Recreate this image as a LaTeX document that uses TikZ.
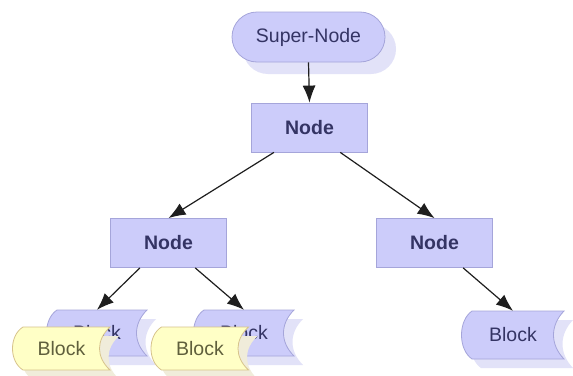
\documentclass[tikz,border=0pt]{standalone}
\usepackage{fontspec}
\setmainfont{Liberation Sans}
\usetikzlibrary{arrows.meta,shadows,calc}
\definecolor{nfill}{RGB}{204,204,250}
\definecolor{ndraw}{RGB}{165,165,218}
\definecolor{nshadow}{RGB}{226,226,248}
\definecolor{ntext}{RGB}{52,52,100}
\definecolor{yfillc}{RGB}{255,255,198}
\definecolor{ydrawc}{RGB}{215,195,140}
\definecolor{yshadowc}{RGB}{240,236,218}
\definecolor{ytextc}{RGB}{95,95,60}
\definecolor{arrowc}{RGB}{30,30,30}
\newcommand\blkshape[2]{(-#1+10,-#2) -- (#1,-#2) .. controls (#1-14,-#2*0.4) and (#1-14,#2*0.4) .. (#1,#2) -- (-#1+10,#2) .. controls (-#1-4,#2*0.6) and (-#1-4,-#2*0.6) .. (-#1+10,-#2) -- cycle}
% #1 name, #2 cx, #3 cy, #4 half width, #5 half height, #6 p or y
\newcommand\blk[6]{%
  \begin{scope}[shift={(#2,#3)}]
    \fill[#6shadow] [shift={(9,9)}] \blkshape{#4}{#5};
    \filldraw[#6block] \blkshape{#4}{#5};
  \end{scope}
  \node[#6text, minimum width=2*#4pt, minimum height=2*#5pt, inner sep=0pt] (#1) at (#2,#3) {Block};
}
\tikzset{
  pshadow/.style={fill=nshadow},
  pblock/.style={fill=nfill, draw=ndraw, line width=0.8pt},
  ptext/.style={text=ntext, font=\fontsize{19.5}{22}\selectfont},
  yshadow/.style={fill=yshadowc},
  yblock/.style={fill=yfillc, draw=ydrawc, line width=0.8pt},
  ytext/.style={text=ytextc, font=\fontsize{19.5}{22}\selectfont},
  nodebox/.style={rectangle, fill=nfill, draw=ndraw, line width=0.8pt, text=ntext,
    font=\bfseries\fontsize{19.5}{22}\selectfont, minimum width=116pt, minimum height=49pt},
  supernode/.style={rectangle, rounded corners=25pt, fill=nfill, draw=ndraw, line width=0.8pt,
    text=ntext, font=\fontsize{19.5}{22}\selectfont, minimum width=153pt, minimum height=50pt,
    drop shadow={shadow xshift=11pt, shadow yshift=-12pt, fill=nshadow, opacity=1}},
  conn/.style={draw=arrowc, line width=1.2pt, -{Latex[length=17pt,width=13pt]}}
}
\begin{document}
\begin{tikzpicture}[x=1pt,y=-1pt]
\fill[white] (0,0) rectangle (573,375);
\useasboundingbox (0,0) rectangle (573,375);
\node[supernode] (super) at (308.5,37) {Super-Node};
\node[nodebox] (top) at (309.5,127.5) {Node};
\node[nodebox] (left) at (168.5,243) {Node};
\node[nodebox] (right) at (434.5,243) {Node};
\blk{b1}{97}{333}{50}{23}{p}
\blk{y1}{61.5}{348.5}{48.5}{21.5}{y}
\blk{b2}{244}{333}{50}{23}{p}
\blk{y2}{200}{348.5}{48.5}{21.5}{y}
\blk{b3}{513}{335}{51}{24}{p}
\draw[conn] (super.south) -- (top.north);
\draw[conn] (top.215) -- (left.north);
\draw[conn] (top.321) -- (right.north);
\draw[conn] (left.221) -- (b1.north);
\draw[conn] (left.317) -- (b2.north);
\draw[conn] (right.319) -- (b3.north);
\end{tikzpicture}
\end{document}
